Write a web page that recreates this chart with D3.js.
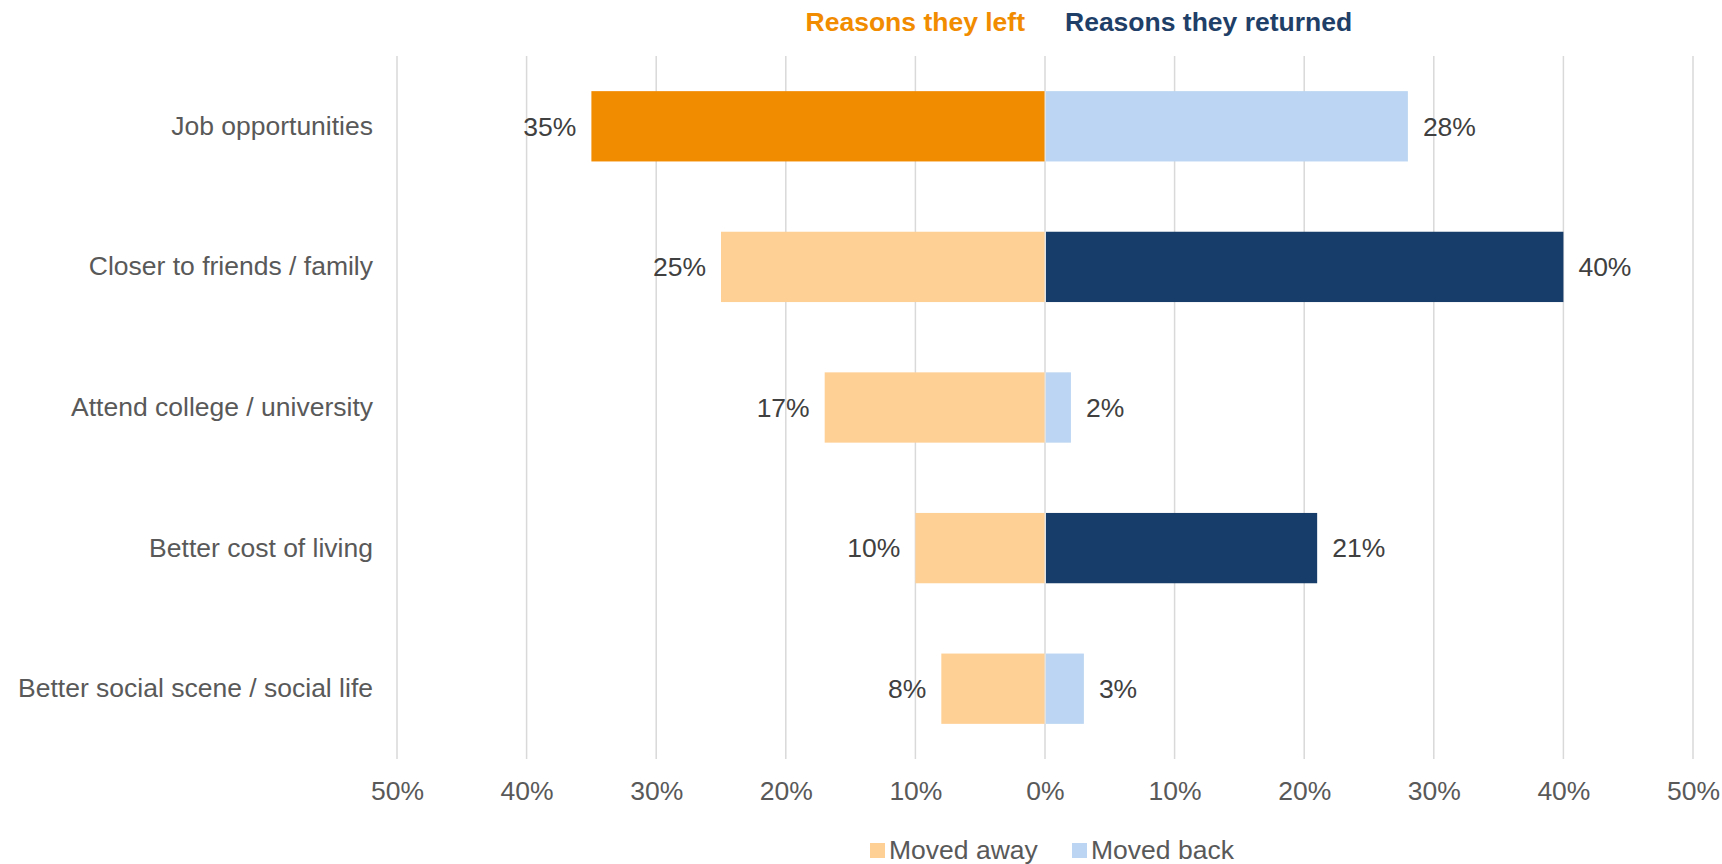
<!DOCTYPE html>
<html>
<head>
<meta charset="utf-8">
<script src="https://cdn.jsdelivr.net/npm/d3@7"></script>
<style>
  body { margin: 0; background: #fff; }
  svg { display: block; font-family: "Liberation Sans", Arial, sans-serif; }
</style>
</head>
<body>
<div id="chart"></div>
<script>
var categories = ["Job opportunities", "Closer to friends / family", "Attend college / university", "Better cost of living", "Better social scene / social life"];
var movedAway = [35, 25, 17, 10, 8];
var movedBack = [28, 40, 2, 21, 3];
var awayHighlight = [true, false, false, false, false];
var backHighlight = [false, true, false, true, false];
var ticks = [-50, -40, -30, -20, -10, 0, 10, 20, 30, 40, 50];
var seriesNames = ["Moved away", "Moved back"];

var width = 1722, height = 864;
var margin = {top: 56, right: 29, bottom: 105, left: 397};

var colors = {
    away: "#FFD095", awayDark: "#F18B00",
    back: "#BBD5F2", backDark: "#173E6A"
};

var svg = d3.select("#chart").append("svg")
    .attr("width", width)
    .attr("height", height);

var x = d3.scaleLinear()
    .domain([-50, 50])
    .range([margin.left, width - margin.right]);

var y = d3.scaleBand()
    .domain(categories)
    .range([margin.top, height - margin.bottom])
    .paddingInner(0.5)
    .paddingOuter(0.25);

// gridlines
svg.append("g")
    .selectAll("line")
    .data(ticks)
    .join("line")
    .attr("x1", function(d) { return x(d); })
    .attr("x2", function(d) { return x(d); })
    .attr("y1", margin.top)
    .attr("y2", height - margin.bottom)
    .attr("stroke", "#D9D9D9")
    .attr("stroke-width", 1.5);

// x axis
var xAxis = d3.axisBottom(x)
    .tickValues(ticks)
    .tickSize(0)
    .tickPadding(0)
    .tickFormat(function(d) { return Math.abs(d) + "%"; });

var gx = svg.append("g")
    .attr("transform", "translate(0," + (height - margin.bottom + 22) + ")")
    .call(xAxis);
gx.select(".domain").remove();
gx.selectAll("text")
    .attr("dy", "0.71em")
    .attr("fill", "#595959")
    .style("font-size", "26.5px");

// y axis labels
var yAxis = d3.axisLeft(y).tickSize(0).tickPadding(24);
var gy = svg.append("g")
    .attr("transform", "translate(" + margin.left + ",0)")
    .call(yAxis);
gy.select(".domain").remove();
gy.selectAll("text")
    .attr("fill", "#595959")
    .style("font-size", "26.5px");

// bars
var rows = categories.map(function(c, i) {
    return {cat: c, away: movedAway[i], back: movedBack[i], awayHi: awayHighlight[i], backHi: backHighlight[i]};
});

svg.append("g")
    .selectAll("rect")
    .data(rows)
    .join("rect")
    .attr("x", function(d) { return x(-d.away); })
    .attr("y", function(d) { return y(d.cat); })
    .attr("width", function(d) { return x(0) - x(-d.away) - 0.5; })
    .attr("height", y.bandwidth())
    .attr("fill", function(d) { return d.awayHi ? colors.awayDark : colors.away; });

svg.append("g")
    .selectAll("rect")
    .data(rows)
    .join("rect")
    .attr("x", x(0) + 1)
    .attr("y", function(d) { return y(d.cat); })
    .attr("width", function(d) { return x(d.back) - x(0) - 1; })
    .attr("height", y.bandwidth())
    .attr("fill", function(d) { return d.backHi ? colors.backDark : colors.back; });

// data labels
svg.append("g")
    .selectAll("text")
    .data(rows)
    .join("text")
    .attr("x", function(d) { return x(-d.away) - 15; })
    .attr("y", function(d) { return y(d.cat) + y.bandwidth() / 2; })
    .attr("dy", "0.35em")
    .attr("text-anchor", "end")
    .attr("fill", "#404040")
    .style("font-size", "26.5px")
    .text(function(d) { return d.away + "%"; });

svg.append("g")
    .selectAll("text")
    .data(rows)
    .join("text")
    .attr("x", function(d) { return x(d.back) + 15; })
    .attr("y", function(d) { return y(d.cat) + y.bandwidth() / 2; })
    .attr("dy", "0.35em")
    .attr("fill", "#404040")
    .style("font-size", "26.5px")
    .text(function(d) { return d.back + "%"; });

// titles
svg.append("text")
    .attr("x", 1025)
    .attr("y", 22)
    .attr("dy", "0.35em")
    .attr("text-anchor", "end")
    .attr("fill", "#F18B00")
    .style("font-size", "26.5px")
    .style("font-weight", "bold")
    .text("Reasons they left");

svg.append("text")
    .attr("x", 1065)
    .attr("y", 22)
    .attr("dy", "0.35em")
    .attr("fill", "#1F3F68")
    .style("font-size", "26.5px")
    .style("font-weight", "bold")
    .text("Reasons they returned");

// legend
var legendX = [870, 1072];
var legendColors = [colors.away, colors.back];
var legend = svg.append("g")
    .selectAll("g")
    .data(seriesNames)
    .join("g")
    .attr("transform", function(d, i) { return "translate(" + legendX[i] + ",850)"; });
legend.append("rect")
    .attr("x", 0)
    .attr("y", -7)
    .attr("width", 15)
    .attr("height", 15)
    .attr("fill", function(d, i) { return legendColors[i]; });
legend.append("text")
    .attr("x", 19)
    .attr("y", 0)
    .attr("dy", "0.35em")
    .attr("fill", "#595959")
    .style("font-size", "26.5px")
    .text(function(d) { return d; });
</script>
</body>
</html>
